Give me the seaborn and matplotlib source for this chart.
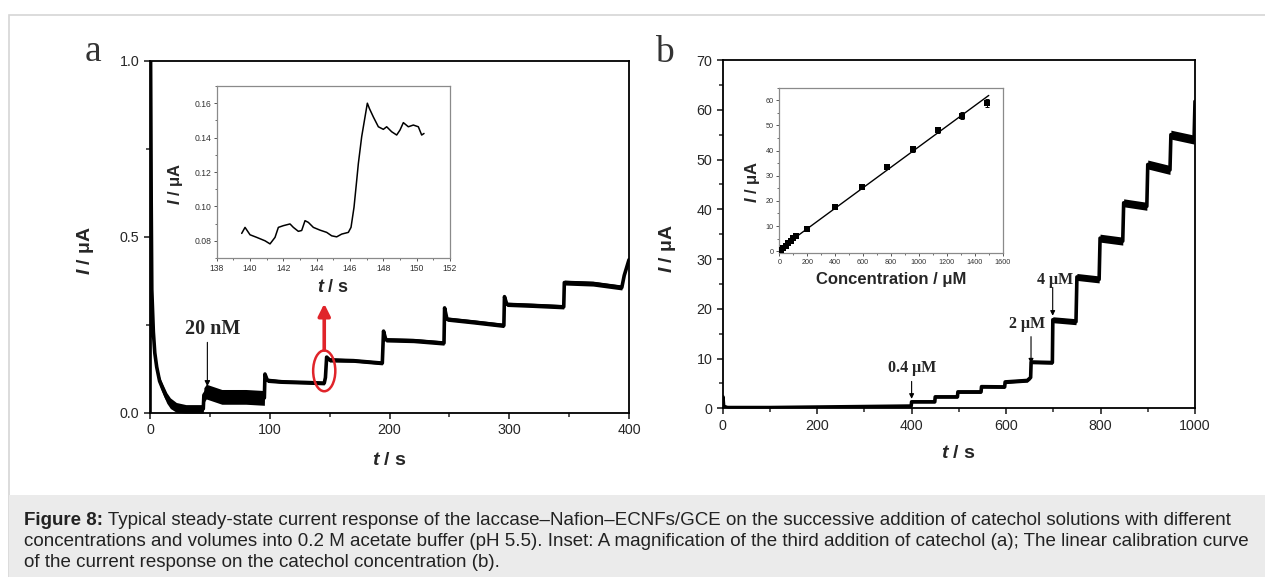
import numpy as np
import pandas as pd
import matplotlib
matplotlib.use("Agg")
import matplotlib.pyplot as plt
from matplotlib.patches import Ellipse, Rectangle
from matplotlib.ticker import MultipleLocator
import seaborn as sns

# ---------------- data ----------------
# panel a: amperometric trace (key points), noise half-width
a_t = [0, 0.3, 1.0, 1.5, 2.8, 4, 5.6, 8, 11, 14, 17, 22, 30, 44.5,
       45, 47, 60, 80, 95.5,
       96, 98, 110, 130, 145.5,
       146.5, 147.5, 150, 170, 194,
       195, 197, 220, 245.5,
       246, 248, 270, 295.5,
       296, 298, 320, 345.5,
       346, 370, 394, 396, 400]
a_I = [0.0, 1.05, 0.6, 0.35, 0.23, 0.17, 0.13, 0.09, 0.065, 0.042, 0.027, 0.015, 0.011, 0.011,
       0.05, 0.06, 0.045, 0.045, 0.042,
       0.11, 0.092, 0.088, 0.086, 0.084,
       0.10, 0.158, 0.150, 0.148, 0.141,
       0.232, 0.207, 0.205, 0.198,
       0.298, 0.266, 0.258, 0.248,
       0.330, 0.308, 0.305, 0.301,
       0.370, 0.367, 0.356, 0.39, 0.435]
a_noise = [0, 0, 0, 0, 0, 0.004, 0.008, 0.012, 0.014, 0.015, 0.015, 0.014, 0.012, 0.012,
           0.021, 0.021, 0.021, 0.021, 0.021,
           0.006, 0.006, 0.005, 0.005, 0.005,
           0.004, 0.006, 0.006, 0.005, 0.005,
           0.006, 0.006, 0.006, 0.006,
           0.006, 0.006, 0.006, 0.006,
           0.006, 0.006, 0.006, 0.006,
           0.007, 0.007, 0.007, 0.004, 0.002]

# inset of panel a: magnified third addition
ins_a_t = [139.5, 139.7, 140.0, 140.4, 140.9, 141.2, 141.5, 141.7, 142.0, 142.4, 142.6,
           142.9, 143.1, 143.3, 143.5, 143.8, 144.2, 144.6, 144.9, 145.2, 145.5, 145.9,
           146.06, 146.24, 146.4, 146.5, 146.7, 146.9, 147.04, 147.16, 147.4, 147.7,
           148.0, 148.2, 148.5, 148.8, 149.0, 149.2, 149.5, 149.8, 150.1, 150.3, 150.44]
ins_a_I = [0.0843, 0.0878, 0.0835, 0.0820, 0.0800, 0.0782, 0.0820, 0.0878, 0.0888, 0.0898, 0.0878,
           0.0855, 0.0860, 0.0917, 0.0907, 0.0878, 0.0862, 0.0849, 0.0829, 0.0823, 0.0839, 0.0849,
           0.0878, 0.0995, 0.1150, 0.1249, 0.1405, 0.1520, 0.1600, 0.1570, 0.1520, 0.1463,
           0.1448, 0.1463, 0.1434, 0.1415, 0.1444, 0.1487, 0.1463, 0.1473, 0.1463, 0.1415, 0.1424]

# panel b: amperometric trace (key points), noise half-width
b_t = [0, 0.5, 2, 10, 100, 200, 300, 399,
       400, 449, 450, 497, 498, 547, 548, 597, 598, 645, 652,
       653, 698, 699, 748, 750, 797, 799, 847, 849, 898, 900, 947, 949, 998, 1000]
b_I = [0.0, 2.3, 0.4, 0.15, 0.15, 0.25, 0.35, 0.45,
       1.3, 1.3, 2.3, 2.3, 3.3, 3.3, 4.35, 4.3, 5.3, 5.6, 6.2,
       9.3, 9.2, 17.8, 17.4, 26.4, 25.9, 34.2, 33.6, 41.3, 40.6, 49.0, 47.9, 55.0, 54.0, 61.7]
b_noise = [0, 0, 0, 0.1, 0.1, 0.1, 0.1, 0.1,
           0.2, 0.2, 0.25, 0.25, 0.3, 0.3, 0.3, 0.3, 0.35, 0.35, 0.35,
           0.35, 0.35, 0.6, 0.6, 0.7, 0.7, 0.8, 0.8, 0.8, 0.8, 0.9, 0.9, 0.9, 0.9, 0.3]

# inset of panel b: calibration curve
conc = [10, 28, 46, 64, 82, 100, 118, 200, 400, 590, 770, 955, 1135, 1310, 1485]
conc_I = [0.3, 1.2, 2.1, 3.1, 4.1, 5.1, 6.0, 8.9, 17.4, 25.6, 33.6, 40.6, 48.2, 53.9, 59.0]
conc_err = [0.2, 0.2, 0.2, 0.3, 0.3, 0.3, 0.3, 0.5, 0.7, 0.8, 0.9, 1.0, 1.2, 1.3, 1.6]

caption_head = "Figure 8:"
caption_lines = [
    " Typical steady-state current response of the laccase–Nafion–ECNFs/GCE on the successive addition of catechol solutions with different",
    "concentrations and volumes into 0.2 M acetate buffer (pH 5.5). Inset: A magnification of the third addition of catechol (a); The linear calibration curve",
    "of the current response on the catechol concentration (b).",
]

# ---------------- style ----------------
sns.set_style("ticks")
plt.rcParams['font.family'] = ['Liberation Sans', 'DejaVu Sans']
plt.rcParams['mathtext.fontset'] = 'custom'
plt.rcParams['mathtext.it'] = 'Liberation Sans:italic:bold'
plt.rcParams['mathtext.rm'] = 'Liberation Sans'
plt.rcParams['mathtext.bf'] = 'Liberation Sans:bold'
plt.rcParams['axes.linewidth'] = 1.3
plt.rcParams['xtick.direction'] = 'out'
plt.rcParams['ytick.direction'] = 'out'

W, H = 1265, 577
fig = plt.figure(figsize=(W / 100, H / 100), dpi=100)
fig.patch.set_facecolor('white')


def fr(l, t, r, b):
    return [l / W, 1 - b / H, (r - l) / W, (b - t) / H]


# frame and caption background
fig.add_artist(Rectangle((9 / W, 0), 1.2, 1 - 15 / H, transform=fig.transFigure,
                         facecolor='white', edgecolor='#d6d6d6', lw=1.2, zorder=-5))
fig.add_artist(Rectangle((9 / W, 0), 1.2, (H - 495) / H, transform=fig.transFigure,
                         facecolor='#ebebeb', edgecolor='none', zorder=-4))
cap_fs = 13.5
renderer = fig.canvas.get_renderer()
head = fig.text(24 / W, 1 - 525 / H, caption_head, fontsize=cap_fs, fontweight='bold',
                color='#222222', va='baseline', ha='left')
hx = head.get_window_extent(renderer=renderer).x1
fig.text(hx / W, 1 - 525 / H, caption_lines[0], fontsize=cap_fs, color='#222222',
         va='baseline', ha='left')
for i, line in enumerate(caption_lines[1:], start=1):
    fig.text(24 / W, 1 - (525 + 21 * i) / H, line, fontsize=cap_fs, color='#222222',
             va='baseline', ha='left')


def style_main(ax):
    ax.tick_params(which='major', length=4.5, width=1.2, labelsize=10.3, pad=3)
    ax.tick_params(which='minor', length=2.8, width=1.1)
    for s in ax.spines.values():
        s.set_linewidth(1.3)
        s.set_color('black')


def style_inset(ax, fs=5.6):
    ax.tick_params(which='major', length=2.5, width=0.7, labelsize=fs, pad=1.5,
                   color='#555555', labelcolor='#333333')
    ax.tick_params(which='minor', length=1.5, width=0.6, color='#555555')
    for s in ax.spines.values():
        s.set_linewidth(0.9)
        s.set_color('#8a8a8a')


# ---------------- panel a ----------------
axa = fig.add_axes(fr(150, 61, 629, 412.7))
dfa = pd.DataFrame({'t': a_t, 'I': a_I, 'n': a_noise})
axa.fill_between(dfa['t'], dfa['I'] - dfa['n'], dfa['I'] + dfa['n'], color='black', lw=0)
sns.lineplot(data=dfa, x='t', y='I', ax=axa, sort=False, estimator=None,
             color='black', lw=2.6)
axa.set_xlim(0, 400)
axa.set_ylim(0, 1.0)
axa.xaxis.set_major_locator(MultipleLocator(100))
axa.xaxis.set_minor_locator(MultipleLocator(50))
axa.yaxis.set_major_locator(MultipleLocator(0.5))
axa.yaxis.set_minor_locator(MultipleLocator(0.25))
style_main(axa)
axa.set_xlabel(r"$t$ / s", fontsize=14, fontweight='bold')
axa.set_ylabel(r"$I$ / μA", fontsize=14, fontweight='bold')
axa.xaxis.set_label_coords(0.5, -0.113)
axa.yaxis.set_label_coords(-0.113, 0.46)

axa.add_patch(Ellipse((145.5, 0.119), 18.5, 0.116, fill=False, edgecolor='#e0242a', lw=1.8, zorder=5))
axa.annotate('', xy=(145.5, 0.31), xytext=(145.5, 0.178),
             arrowprops=dict(arrowstyle='-|>', color='#e0242a', lw=2.6, mutation_scale=18,
                             shrinkA=0, shrinkB=0))
axa.annotate('', xy=(47.9, 0.075), xytext=(47.9, 0.2),
             arrowprops=dict(arrowstyle='-|>', color='black', lw=0.8, mutation_scale=8,
                             shrinkA=0, shrinkB=0))
axa.text(52.5, 0.238, "20 nM", family='Liberation Serif', fontweight='bold', fontsize=14.5,
         ha='center', va='center')
fig.text(93 / W, 1 - 61 / H, "a", family='Liberation Serif', fontsize=27, ha='center',
         va='baseline', color='#333333')

# inset a
axia = fig.add_axes(fr(216.7, 86, 450, 258))
dfia = pd.DataFrame({'t': ins_a_t, 'I': ins_a_I})
sns.lineplot(data=dfia, x='t', y='I', ax=axia, sort=False, estimator=None, color='black', lw=1.1)
axia.set_xlim(138, 152)
axia.set_ylim(0.07, 0.17)
axia.xaxis.set_major_locator(MultipleLocator(2))
axia.xaxis.set_minor_locator(MultipleLocator(1))
axia.yaxis.set_major_locator(MultipleLocator(0.02))
axia.yaxis.set_minor_locator(MultipleLocator(0.01))
axia.yaxis.set_major_formatter(matplotlib.ticker.FormatStrFormatter('%.2f'))
style_inset(axia, fs=6.2)
axia.set_xlabel(r"$t$ / s", fontsize=13, fontweight='bold')
axia.set_ylabel(r"$I$ / μA", fontsize=12, fontweight='bold')
axia.xaxis.set_label_coords(0.5, -0.12)
axia.yaxis.set_label_coords(-0.135, 0.43)

# ---------------- panel b ----------------
axb = fig.add_axes(fr(722.7, 60, 1195, 408.3))
dfb = pd.DataFrame({'t': b_t, 'I': b_I, 'n': b_noise})
axb.fill_between(dfb['t'], dfb['I'] - dfb['n'], dfb['I'] + dfb['n'], color='black', lw=0)
sns.lineplot(data=dfb, x='t', y='I', ax=axb, sort=False, estimator=None, color='black', lw=2.6)
axb.set_xlim(0, 1000)
axb.set_ylim(0, 70)
axb.xaxis.set_major_locator(MultipleLocator(200))
axb.xaxis.set_minor_locator(MultipleLocator(100))
axb.yaxis.set_major_locator(MultipleLocator(10))
axb.yaxis.set_minor_locator(MultipleLocator(5))
style_main(axb)
axb.set_xlabel(r"$t$ / s", fontsize=14, fontweight='bold')
axb.set_ylabel(r"$I$ / μA", fontsize=14, fontweight='bold')
axb.xaxis.set_label_coords(0.5, -0.105)
axb.yaxis.set_label_coords(-0.095, 0.46)

for (tx, ty, label, ax_x, tail, tip) in [
    (402, 8.0, "0.4 μM", 400, 5.4, 1.9),
    (643.6, 16.9, "2 μM", 652.8, 14.4, 9.0),
    (703.6, 25.8, "4 μM", 698.7, 24.3, 18.6),
]:
    axb.text(tx, ty, label, family='Liberation Serif', fontweight='bold', fontsize=11.5,
             ha='center', va='center')
    axb.annotate('', xy=(ax_x, tip), xytext=(ax_x, tail),
                 arrowprops=dict(arrowstyle='-|>', color='black', lw=0.8, mutation_scale=7,
                                 shrinkA=0, shrinkB=0))
fig.text(664 / W, 1 - 62 / H, "b", family='Liberation Serif', fontsize=27, ha='center',
         va='baseline', color='#333333')

# inset b
axib = fig.add_axes(fr(779.3, 87.7, 1002.7, 253))
dfc = pd.DataFrame({'c': conc, 'I': conc_I, 'e': conc_err})
axib.errorbar(dfc['c'], dfc['I'], yerr=dfc['e'], fmt='none', ecolor='black', elinewidth=0.7,
              capsize=1.5, capthick=0.7)
sns.scatterplot(data=dfc, x='c', y='I', ax=axib, marker='s', s=14, color='black',
                edgecolor='black', linewidth=0, zorder=3)
slope, icpt = np.polyfit(conc, conc_I, 1)
fit_x = [0, 1500]
dff = pd.DataFrame({'c': fit_x, 'I': [icpt + slope * v for v in fit_x]})
sns.lineplot(data=dff, x='c', y='I', ax=axib, color='black', lw=1.0)
axib.set_xlim(0, 1600)
axib.set_ylim(-0.7, 65)
axib.xaxis.set_major_locator(MultipleLocator(200))
axib.xaxis.set_minor_locator(MultipleLocator(100))
axib.yaxis.set_major_locator(MultipleLocator(10))
axib.yaxis.set_minor_locator(MultipleLocator(5))
style_inset(axib, fs=5.2)
axib.set_xlabel("Concentration / μM", fontsize=12, fontweight='bold')
axib.set_ylabel(r"$I$ / μA", fontsize=12, fontweight='bold')
axib.xaxis.set_label_coords(0.503, -0.114)
axib.yaxis.set_label_coords(-0.076, 0.43)

fig.savefig("out.png", dpi=100)
